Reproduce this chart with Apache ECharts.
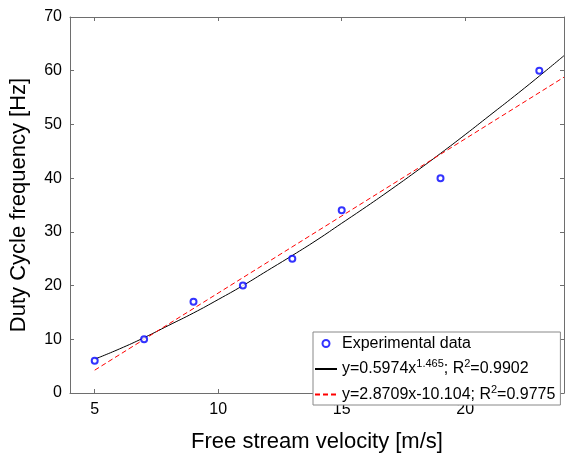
<!DOCTYPE html>
<html>
<head>
<meta charset="utf-8">
<script src="https://cdn.jsdelivr.net/npm/echarts@6/dist/echarts.min.js"></script>
<style>
html, body { margin: 0; padding: 0; background: #fff; }
#chart { width: 565px; height: 458px; }
</style>
</head>
<body>
<div id="chart"></div>
<script>
// measured points
var velocity = [5, 7, 9, 11, 13, 15, 19, 23];
var frequency = [6, 10, 17, 20, 25, 34, 40, 60];

// power fit curve
var powerX = [5, 6, 7, 8, 9, 10, 11, 12, 13, 14, 15, 16, 17, 18, 19, 20, 21, 22, 23, 24];
var powerY = [6.3, 8.2, 10.3, 12.6, 14.9, 17.4, 20.0, 22.8, 25.6, 28.5, 31.6, 34.7, 37.9, 41.2, 44.6, 48.1, 51.7, 55.3, 59.0, 62.8];

// linear fit, end points
var linearX = [5, 24];
var linearY = [4.25, 58.8];

var xTicks = [5, 10, 15, 20];

var legendText = {
    'Experimental data': 'Experimental data',
    'power': 'y=0.5974x{sup|1.465}; R{sup|2}=0.9902',
    'linear': 'y=2.8709x-10.104; R{sup|2}=0.9775'
};

function pairs(xs, ys) {
    return xs.map(function (x, i) { return [x, ys[i]]; });
}

var chart = echarts.init(document.getElementById('chart'));

var axisColor = '#6e6e6e';
var font = 'Liberation Sans, Arial, sans-serif';

function baseAxis() {
    return {
        axisLine: { show: true, onZero: false, lineStyle: { color: axisColor, width: 1 } },
        axisTick: { show: true, inside: true, length: 4, lineStyle: { color: axisColor } },
        splitLine: { show: false }
    };
}

var xBottom = Object.assign(baseAxis(), {
    type: 'value', min: 4, max: 24, interval: 5,
    position: 'bottom',
    name: 'Free stream velocity [m/s]',
    nameLocation: 'middle',
    nameGap: 38,
    nameTextStyle: { fontFamily: font, fontSize: 22, color: '#000' },
    axisLabel: {
        fontFamily: font, fontSize: 16, color: '#000', margin: 9,
        customValues: xTicks
    },
    axisTick: { show: true, inside: true, length: 4, lineStyle: { color: axisColor }, customValues: xTicks }
});
var xTop = Object.assign(baseAxis(), {
    type: 'value', min: 4, max: 24, position: 'top',
    axisLabel: { show: false },
    axisTick: { show: true, inside: true, length: 4, lineStyle: { color: axisColor }, customValues: xTicks }
});
var yLeft = Object.assign(baseAxis(), {
    type: 'value', min: 0, max: 70, interval: 10, position: 'left',
    name: 'Duty Cycle frequency [Hz]',
    nameLocation: 'middle',
    nameGap: 40,
    nameTextStyle: { fontFamily: font, fontSize: 22, color: '#000' },
    axisLabel: { fontFamily: font, fontSize: 16, color: '#000', margin: 8 }
});
var yRight = Object.assign(baseAxis(), {
    type: 'value', min: 0, max: 70, interval: 10, position: 'right',
    axisLabel: { show: false }
});

chart.setOption({
    animation: false,
    backgroundColor: '#fff',
    grid: { left: 66, top: 17, right: 1, bottom: 51, containLabel: false },
    legend: {
        orient: 'vertical',
        left: 313, top: 332,
        padding: [2, 5, 1, 1],
        itemGap: 5.5,
        itemWidth: 22,
        itemHeight: 7,
        backgroundColor: '#fff',
        borderColor: '#888',
        borderWidth: 1,
        borderRadius: 0,
        data: [
            { name: 'Experimental data', icon: 'emptyCircle' },
            { name: 'power', itemStyle: { opacity: 0 } },
            { name: 'linear', itemStyle: { opacity: 0 } }
        ],
        formatter: function (name) { return legendText[name]; },
        textStyle: {
            fontFamily: font, fontSize: 16, color: '#000', lineHeight: 19,
            rich: {
                sup: { fontFamily: font, fontSize: 11, color: '#000', padding: [0, 0, 10, 0] }
            }
        }
    },
    xAxis: [xBottom, xTop],
    yAxis: [yLeft, yRight],
    series: [
        {
            name: 'Experimental data',
            type: 'scatter',
            data: pairs(velocity, frequency),
            symbol: 'emptyCircle',
            symbolSize: 6,
            itemStyle: { color: '#0000ff', borderColor: '#0000ff', borderWidth: 1 },
            z: 5
        },
        {
            name: 'power',
            type: 'line',
            data: pairs(powerX, powerY),
            smooth: true,
            showSymbol: false,
            symbol: 'none',
            lineStyle: { color: '#000', width: 1 },
            itemStyle: { color: '#000' }
        },
        {
            name: 'linear',
            type: 'line',
            data: pairs(linearX, linearY),
            showSymbol: false,
            symbol: 'none',
            lineStyle: { color: '#ff0000', width: 1, type: [5, 3] },
            itemStyle: { color: '#ff0000' }
        }
    ]
});
</script>
</body>
</html>
